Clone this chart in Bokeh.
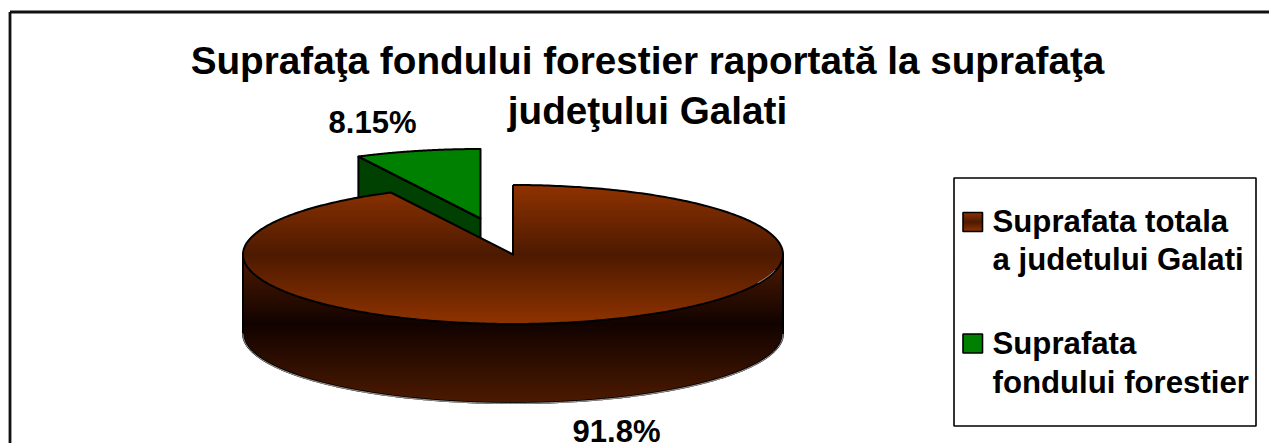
import numpy as np
from bokeh.core.properties import value
from bokeh.embed import file_html
from bokeh.models import Range1d
from bokeh.plotting import figure
from bokeh.resources import INLINE

# ---- chart content ----
title_lines = ["Suprafaţa fondului forestier raportată la suprafaţa", "judeţului Galati"]
categories = ["Suprafata totala a judetului Galati", "Suprafata fondului forestier"]
legend_lines = [["Suprafata totala", "a judetului Galati"], ["Suprafata", "fondului forestier"]]
values = [91.8, 8.15]
labels = ["91.8%", "8.15%"]

# ---- 3D pie geometry (page pixels) ----
FONT = value("Liberation Sans")
CX, CY, A, B, DEPTH = 512.5, 254.0, 270.0, 69.5, 79.0
GX, GY = 480.0, 218.0          # exploded slice tip
TILT_WARP = 0.916              # angular squeeze of the tilted projection
BROWN_HI, BROWN_MID, BROWN_DK = (143, 51, 0), (77, 26, 0), (18, 3, 0)
GREEN, GREEN_DK = "#008000", "#004000"

total = sum(values)
green_sweep = np.radians(values[1] / total * 360 * TILT_WARP)


def arc(cx, cy, t0, t1, n=180):
    """Angle measured clockwise from 12 o'clock on the projected ellipse."""
    t = np.linspace(t0, t1, n)
    return cx + A * np.sin(t), cy - B * np.cos(t)


def lerp(c0, c1, f):
    f = float(np.clip(f, 0, 1))
    return "#%02x%02x%02x" % tuple(int(round(a + (b - a) * f)) for a, b in zip(c0, c1))


def scan(xs, ys, colour_at, overlap=0.7):
    """Scan-convert a polygon into overlapping colour bands painted top-down."""
    xs, ys = np.asarray(xs), np.asarray(ys)
    x2, y2 = np.roll(xs, -1), np.roll(ys, -1)
    L, R, T, Bt, C = [], [], [], [], []
    for row in range(int(np.floor(ys.min())), int(np.ceil(ys.max()))):
        yc = row + 0.5
        hit = ((ys <= yc) & (y2 > yc)) | ((y2 <= yc) & (ys > yc))
        cross = np.sort(xs[hit] + (yc - ys[hit]) / (y2[hit] - ys[hit]) * (x2[hit] - xs[hit]))
        for a, b in zip(cross[0::2], cross[1::2]):
            L.append(float(a)); R.append(float(b)); T.append(row); Bt.append(row + 1 + overlap); C.append(colour_at(yc))
    return dict(left=L, right=R, top=T, bottom=Bt, color=C)


def top_colour(y):
    return lerp(BROWN_MID, BROWN_HI, abs(y - CY) / B)


def wall_colour(y):
    mid = CY + B
    if y < mid:
        return lerp(BROWN_MID, BROWN_DK, (y - (CY + 5)) / (mid - (CY + 5)))
    return lerp(BROWN_DK, BROWN_MID, (y - mid) / DEPTH)


def bands(src):
    p.quad(source=src, left="left", right="right", top="top", bottom="bottom",
           fill_color="color", fill_alpha=1.0, line_color=None)


def put_text(x, baseline_y, s, size, align):
    # the SVG text anchor sits about 0.35 em above the alphabetic baseline
    p.text([x], [baseline_y - 0.35 * size], text=[s], text_font=FONT, text_font_style="bold",
           text_font_size=f"{size}px", text_align=align, text_baseline="middle", text_color="black")


p = figure(width=1269, height=443, x_range=Range1d(0, 1269), y_range=Range1d(443, 0),
           x_axis_type=None, y_axis_type=None, toolbar_location=None, output_backend="svg",
           min_border=0, outline_line_color=None, background_fill_color="white",
           border_fill_color="white")
p.grid.visible = False

# chart frame: open towards the right and the bottom of the page
p.line([9.5, 9.5], [443, 11.5], line_color="#111111", line_width=2.8)
p.line([9.5, 1269], [11.5, 11.5], line_color="#111111", line_width=2.8)

# exploded green slice
gx, gy = arc(GX, GY, -green_sweep, 0)
p.patch([gx[0], GX, GX, gx[0]], [gy[0], GY, GY + DEPTH, gy[0] + DEPTH],
        fill_color=GREEN_DK, line_color="black", line_width=2)
p.patch(list(gx) + [GX], list(gy) + [GY], fill_color=GREEN, line_color="black",
        line_width=2, line_join="round")

# brown wall
wx1, wy1 = arc(CX, CY, np.pi / 2, 3 * np.pi / 2)
wx = np.concatenate([wx1, wx1[::-1]])
wy = np.concatenate([wy1, wy1[::-1] + DEPTH])
bands(scan(wx, wy, wall_colour))

# brown top
bx, by = arc(CX, CY, 0, 2 * np.pi - green_sweep, 400)
tx = np.concatenate([bx, [CX]])
ty = np.concatenate([by, [CY]])
bands(scan(tx, ty, top_colour, overlap=0.4))

# outlines
p.line(list(wx1[::-1]) + [wx1[0]], list(wy1[::-1] + DEPTH) + [wy1[0]], line_color="black", line_width=2)
p.line([wx1[-1], wx1[-1]], [wy1[-1], wy1[-1] + DEPTH], line_color="black", line_width=2)
p.line(wx1[::-1], wy1[::-1] + DEPTH + 0.4, line_color="#c8c8c8", line_width=0.8)
p.line(list(tx) + [tx[0]], list(ty) + [ty[0]], line_color="black", line_width=2, line_join="round")
hx, hy = arc(CX, CY, np.radians(104), np.radians(115), 30)
p.line(hx, hy - 1.0, line_color="#c8c8c8", line_width=0.8)

# slice labels
put_text(372, 132.5, labels[1], 31, "center")
put_text(616, 442, labels[0], 31, "center")

# title
for line, base in zip(title_lines, [74, 124]):
    put_text(647, base, line, 38.7, "center")

# legend
p.quad(left=[953.5], right=[1255.5], top=[177.5], bottom=[425.5], fill_color="white", fill_alpha=1.0,
       line_color="black", line_width=1.6)
sw_top = [212, 333.5]
sw_h = 19.0
def swatch_colour(y):
    return lerp(BROWN_MID, BROWN_HI, abs(y - (sw_top[0] + sw_h / 2)) / (sw_h / 2))
bands(scan([962.5, 982, 982, 962.5], [sw_top[0], sw_top[0], sw_top[0] + sw_h - 0.5, sw_top[0] + sw_h - 0.5],
           swatch_colour, overlap=0.5))
p.quad(left=[962.5], right=[982], top=[sw_top[0]], bottom=[sw_top[0] + sw_h], fill_color=None,
       line_color="black", line_width=1.6)
p.quad(left=[962.5], right=[982], top=[sw_top[1]], bottom=[sw_top[1] + sw_h], fill_color=GREEN, fill_alpha=1.0,
       line_color="black", line_width=1.6)
for entry, bases in zip(legend_lines, [[232, 270], [354, 393]]):
    for line, base in zip(entry, bases):
        put_text(992, base, line, 31.2, "left")

open("out.html", "w").write(file_html(p, INLINE))
